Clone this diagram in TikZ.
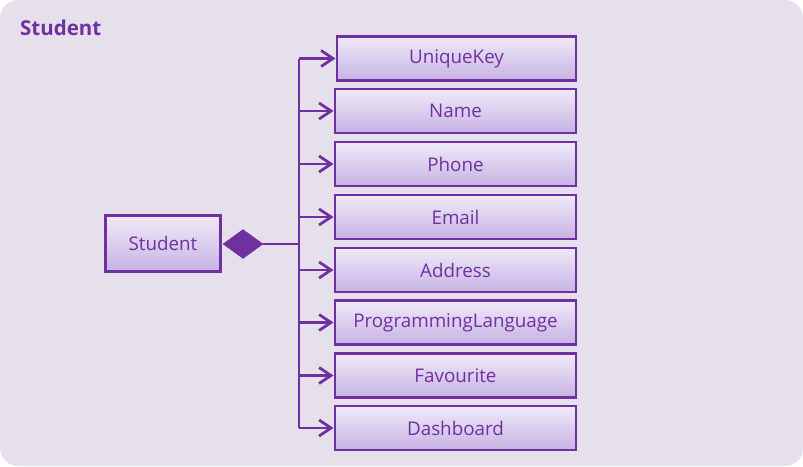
\documentclass[tikz,border=0pt]{standalone}
\usepackage{fontspec}
\setmainfont{Open Sans}
\usetikzlibrary{arrows.meta,shapes.geometric}
\definecolor{umlpurple}{HTML}{7030A0}
\definecolor{boxtop}{HTML}{F0EAF8}
\definecolor{boxbot}{HTML}{C6B2E3}
\definecolor{panel}{HTML}{E6E0EC}
\tikzstyle{classbox} = [draw=umlpurple, line width=2.8pt, top color=boxtop, bottom color=boxbot, rectangle, text=umlpurple, font=\fontsize{18.8}{21}\selectfont, minimum width=241pt, minimum height=44pt, inner sep=0pt]
\tikzstyle{comp} = [diamond, draw=umlpurple, fill=umlpurple, minimum width=40pt, minimum height=29pt, inner sep=0pt]
\tikzstyle{link} = [draw=umlpurple, line width=2.8pt]
\tikzstyle{arr} = [-{Straight Barb[length=12pt,width=16pt,line join=miter]}]
\newcommand{\ttl}[1]{\fontsize{20.5}{24}\selectfont\bfseries #1}

\begin{document}
\begin{tikzpicture}[x=1pt,y=-1pt]
\fill[white] (0,0) rectangle (803,466);
\fill[panel, rounded corners=18pt] (0,0) rectangle (803,466);
\useasboundingbox (0,0) rectangle (803,466);
\node[anchor=base west, text=umlpurple, inner sep=0pt] (title) at (20,35) {\ttl{Student}};

% the class and its parts
\node[classbox, minimum width=115pt, minimum height=56pt] (student) at (163,243.5) {Student};
\node[comp] (own) at (243,244) {};
\node[classbox, minimum width=239pt] (key) at (456.5,58.5) {UniqueKey};
\node[classbox] (name) at (455.5,111) {Name};
\node[classbox] (phone) at (455.5,164) {Phone};
\node[classbox] (email) at (455.5,217) {Email};
\node[classbox] (address) at (455.5,270) {Address};
\node[classbox] (lang) at (455.5,322.5) {ProgrammingLanguage};
\node[classbox] (fav) at (455.5,375.5) {Favourite};
\node[classbox] (dash) at (455.5,428) {Dashboard};

\coordinate (trunk) at (299,244);
\draw[link] (own.east) -- (trunk);
\draw[link] (trunk |- key.west) -- (trunk |- dash.west);
\draw[link,arr] (trunk |- key.west) -- (key.west);
\draw[link,arr] (trunk |- name.west) -- (name.west);
\draw[link,arr] (trunk |- phone.west) -- (phone.west);
\draw[link,arr] (trunk |- email.west) -- (email.west);
\draw[link,arr] (trunk |- address.west) -- (address.west);
\draw[link,arr] (trunk |- lang.west) -- (lang.west);
\draw[link,arr] (trunk |- fav.west) -- (fav.west);
\draw[link,arr] (trunk |- dash.west) -- (dash.west);
\end{tikzpicture}
\end{document}
